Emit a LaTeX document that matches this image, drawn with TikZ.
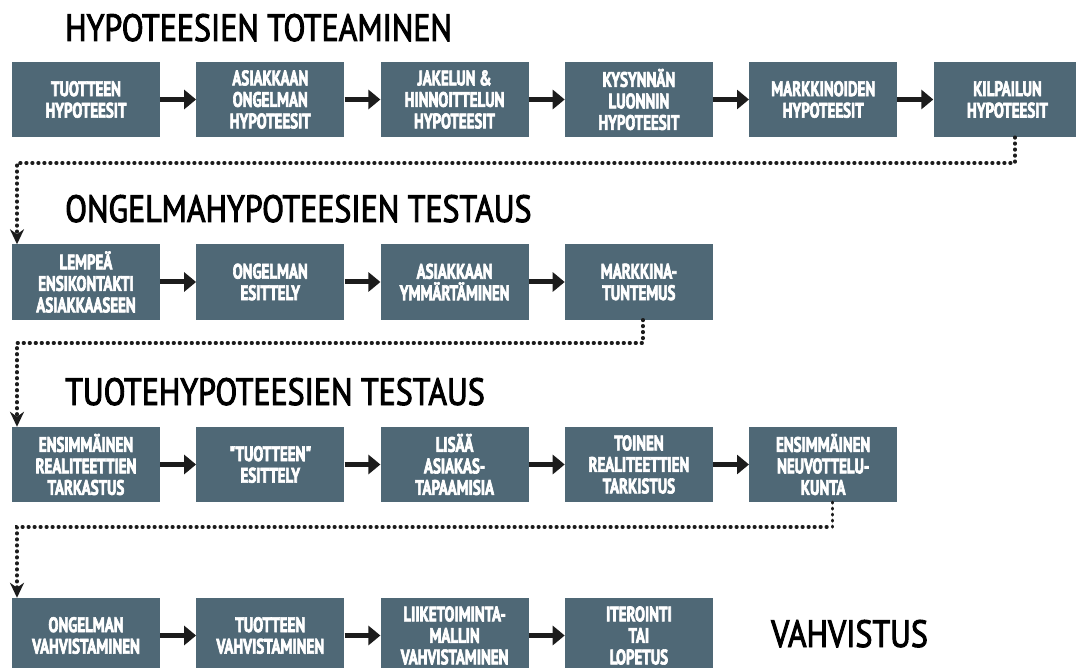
\documentclass[tikz,border=0pt]{standalone}
\usepackage{fontspec}
\setmainfont{PT Sans}
\newfontfamily\boxfont{PT Sans}[FakeStretch=0.71,FakeBold=3]
\newfontfamily\headfont{PT Sans}[FakeStretch=0.84,FakeBold=2.5]
\usetikzlibrary{arrows.meta}
\definecolor{boxslate}{RGB}{79,104,118}
\definecolor{arrowdark}{RGB}{28,28,28}

\begin{document}
\begin{tikzpicture}[x=1pt,y=-1pt,
  stepbox/.style={fill=boxslate,text=white,minimum width=148pt,minimum height=75pt,inner sep=0pt,align=center,font=\boxfont\bfseries\fontsize{21}{21.5}\selectfont},
  headline/.style={anchor=base west,inner sep=0pt,font=\headfont\fontsize{38}{40}\selectfont},
  flow/.style={line width=5pt,draw=arrowdark,-{Triangle[length=12pt,width=19pt]}},
  hop/.style={line width=3.4pt,draw=arrowdark,line cap=round,dash pattern=on 0.8pt off 5.2pt,-{Stealth[length=15pt,width=14pt]}}]
\useasboundingbox (0,0) rectangle (1076,668);

\node[headline] (h1) at (65,41) {HYPOTEESIEN TOTEAMINEN};
\node[headline] (h2) at (65,222) {ONGELMAHYPOTEESIEN TESTAUS};
\node[headline] (h3) at (65,405) {TUOTEHYPOTEESIEN TESTAUS};
\node[headline] (h4) at (771,647) {VAHVISTUS};

\node[stepbox] (t1) at (86,99.5) {TUOTTEEN\\HYPOTEESIT};
\node[stepbox] (t2) at (270.3,99.5) {ASIAKKAAN\\ONGELMAN\\HYPOTEESIT};
\node[stepbox] (t3) at (454.6,99.5) {JAKELUN \&\\HINNOITTELUN\\HYPOTEESIT};
\node[stepbox] (t4) at (638.9,99.5) {KYSYNNÄN\\LUONNIN\\HYPOTEESIT};
\node[stepbox] (t5) at (823.2,99.5) {MARKKINOIDEN\\HYPOTEESIT};
\node[stepbox] (t6) at (1007.5,99.5) {KILPAILUN\\HYPOTEESIT};

\node[stepbox] (o1) at (86,282) {LEMPEÄ\\ENSIKONTAKTI\\ASIAKKAASEEN};
\node[stepbox] (o2) at (270.3,282) {ONGELMAN\\ESITTELY};
\node[stepbox] (o3) at (454.6,282) {ASIAKKAAN\\YMMÄRTÄMINEN};
\node[stepbox] (o4) at (638.9,282) {MARKKINA-\\TUNTEMUS};

\node[stepbox] (p1) at (86,464.5) {ENSIMMÄINEN\\REALITEETTIEN\\TARKASTUS};
\node[stepbox] (p2) at (270.3,464.5) {"TUOTTEEN"\\ESITTELY};
\node[stepbox] (p3) at (454.6,464.5) {LISÄÄ\\ASIAKAS-\\TAPAAMISIA};
\node[stepbox] (p4) at (638.9,464.5) {TOINEN\\REALITEETTIEN\\TARKISTUS};
\node[stepbox] (p5) at (823.2,464.5) {ENSIMMÄINEN\\NEUVOTTELU-\\KUNTA};

\node[stepbox] (v1) at (86,635.5) {ONGELMAN\\VAHVISTAMINEN};
\node[stepbox] (v2) at (270.3,635.5) {TUOTTEEN\\VAHVISTAMINEN};
\node[stepbox] (v3) at (454.6,635.5) {LIIKETOIMINTA-\\MALLIN\\VAHVISTAMINEN};
\node[stepbox] (v4) at (638.9,635.5) {ITEROINTI\\TAI\\LOPETUS};

\draw[flow] (t1) -- (t2);
\draw[flow] (t2) -- (t3);
\draw[flow] (t3) -- (t4);
\draw[flow] (t4) -- (t5);
\draw[flow] (t5) -- (t6);

\draw[flow] (o1) -- (o2);
\draw[flow] (o2) -- (o3);
\draw[flow] (o3) -- (o4);

\draw[flow] (p1) -- (p2);
\draw[flow] (p2) -- (p3);
\draw[flow] (p3) -- (p4);
\draw[flow] (p4) -- (p5);

\draw[flow] (v1) -- (v2);
\draw[flow] (v2) -- (v3);
\draw[flow] (v3) -- (v4);

\coordinate (c1) at (17,163);
\coordinate (c2) at (17,343);
\coordinate (c3) at (17,527);
\draw[hop] ([xshift=7.5pt]t6.south) |- (c1) -- ([xshift=-69pt]o1.north);
\draw[hop] ([xshift=4pt]o4.south) |- (c2) -- ([xshift=-69pt]p1.north);
\draw[hop] ([xshift=9pt]p5.south) |- (c3) -- ([xshift=-69pt]v1.north);
\end{tikzpicture}
\end{document}
